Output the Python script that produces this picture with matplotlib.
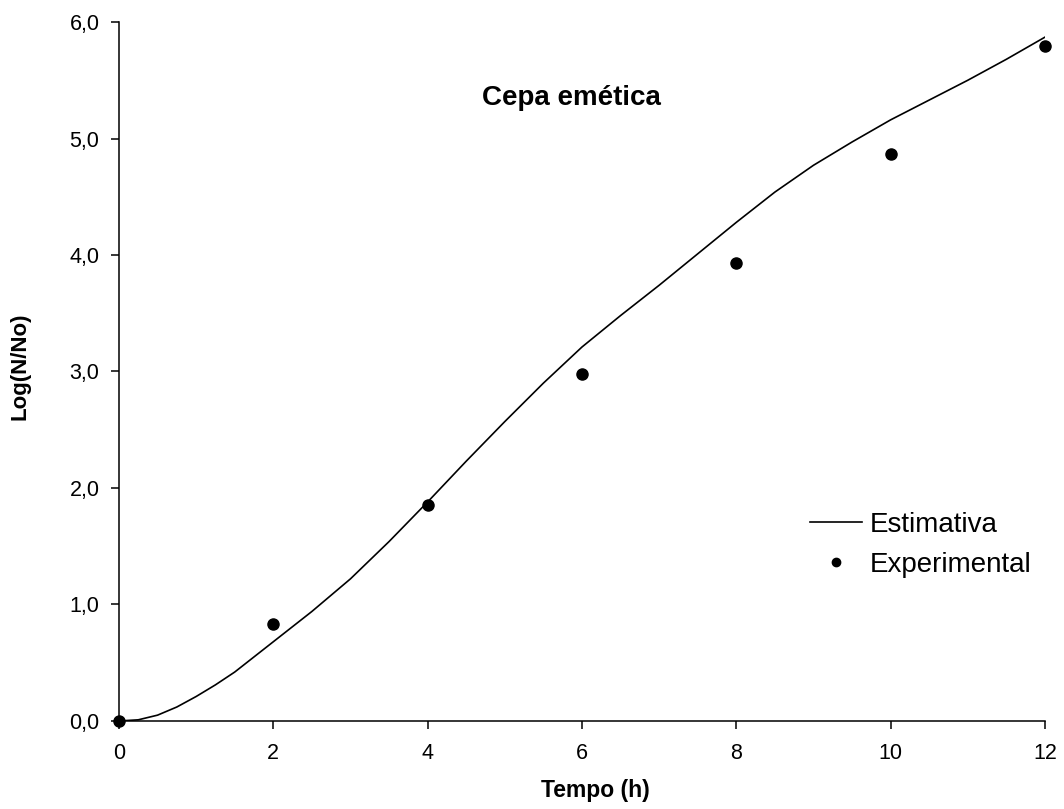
import numpy as np
import matplotlib
matplotlib.use('Agg')
import matplotlib.pyplot as plt

plt.rcParams['font.family'] = ['Liberation Sans', 'DejaVu Sans']

# dados experimentais
tempo_exp = [0, 2, 4, 6, 8, 10, 12]
log_exp = [0.0, 0.83, 1.85, 2.98, 3.93, 4.87, 5.79]

# curva estimada
tempo_est = [0, 0.25, 0.5, 0.75, 1, 1.25, 1.5, 2, 2.5, 3, 3.5, 4, 4.5, 5, 5.5,
             6, 6.5, 7, 7.5, 8, 8.5, 9, 9.5, 10, 10.5, 11, 11.5, 12]
log_est = [0.0, 0.01, 0.05, 0.12, 0.21, 0.31, 0.42, 0.68, 0.94, 1.22, 1.54,
           1.88, 2.23, 2.57, 2.90, 3.21, 3.48, 3.74, 4.01, 4.28, 4.54, 4.77,
           4.97, 5.16, 5.33, 5.50, 5.68, 5.87]

x_ticks = [0, 2, 4, 6, 8, 10, 12]
y_ticks = [0, 1, 2, 3, 4, 5, 6]
y_labels = ['0,0', '1,0', '2,0', '3,0', '4,0', '5,0', '6,0']

fig = plt.figure(figsize=(10.64, 8.09), dpi=100)
ax = fig.add_axes([0.1118, 0.1088, 0.8703, 0.864])

ax.plot(tempo_est, log_est, color='black', lw=1.2, label='Estimativa')
ax.plot(tempo_exp, log_exp, 'o', color='black', ms=8, label='Experimental',
        clip_on=False)

ax.set_xlim(0, 12)
ax.set_ylim(0, 6)
ax.set_xticks(x_ticks)
ax.set_yticks(y_ticks)
ax.set_yticklabels(y_labels)
ax.tick_params(direction='out', length=6, width=1.1, labelsize=15.5, colors='black')
ax.tick_params(axis='x', pad=10)
ax.tick_params(axis='y', pad=8)
for s in ['top', 'right']:
    ax.spines[s].set_visible(False)
for s in ['left', 'bottom']:
    ax.spines[s].set_linewidth(1.1)

ax.set_xlabel('Tempo (h)', fontsize=16.5, fontweight='bold', va='center')
ax.xaxis.set_label_coords(0.515, -0.1)
ax.set_ylabel('Log(N/No)', fontsize=16, fontweight='bold', va='center')
ax.yaxis.set_label_coords(-0.107, 0.508)

ax.text(5.87, 5.35, 'Cepa emética', fontsize=20, fontweight='bold',
        ha='center', va='center')

leg = ax.legend(loc='center left', bbox_to_anchor=(0.746, 0.252), frameon=False,
                fontsize=20, handlelength=1.87, handletextpad=0.3, labelspacing=0.5,
                markerscale=0.75, borderpad=0, borderaxespad=0)

fig.savefig('out.png', dpi=100)
